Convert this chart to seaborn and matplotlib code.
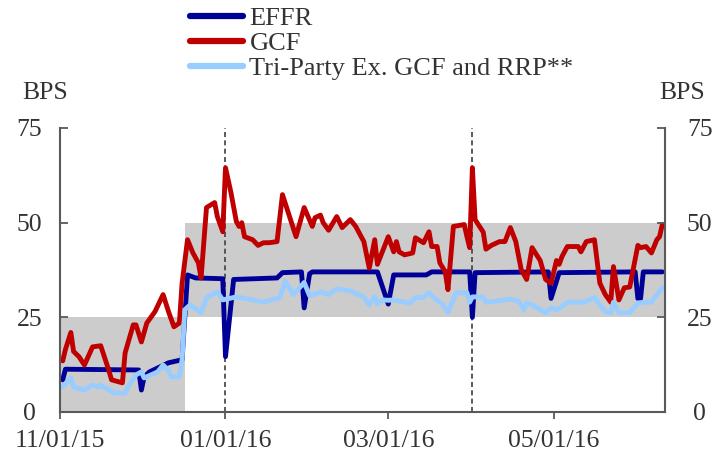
import pandas as pd
import seaborn as sns
import matplotlib.pyplot as plt

# Data (basis points)
effr_dates = ['2015-11-02', '2015-11-03', '2015-11-30', '2015-12-01', '2015-12-02', '2015-12-04',
              '2015-12-11', '2015-12-16', '2015-12-18', '2015-12-21', '2015-12-31', '2016-01-01',
              '2016-01-04', '2016-01-20', '2016-01-22', '2016-01-29', '2016-01-30', '2016-02-01',
              '2016-02-02', '2016-02-26', '2016-03-01', '2016-03-03', '2016-03-15', '2016-03-17',
              '2016-03-31', '2016-04-01', '2016-04-02', '2016-04-29', '2016-04-30', '2016-05-03',
              '2016-05-31', '2016-06-01', '2016-06-02', '2016-06-03', '2016-06-10']
effr_vals = [8.5, 11.3, 11.1, 5.8, 9.3, 10.6,
             13.0, 13.8, 36.2, 35.4, 35.2, 14.6,
             35.0, 35.4, 36.8, 37.0, 27.5, 36.5,
             37.0, 37.0, 28.5, 36.2, 36.2, 37.0,
             37.0, 25.0, 36.8, 37.0, 30.0, 36.8,
             37.0, 30.0, 30.0, 37.0, 37.0]

gcf_dates = ['2015-11-02', '2015-11-03', '2015-11-05', '2015-11-06', '2015-11-08', '2015-11-10',
             '2015-11-13', '2015-11-16', '2015-11-19', '2015-11-20', '2015-11-24', '2015-11-25',
             '2015-11-28', '2015-11-29',
             '2015-12-01', '2015-12-03', '2015-12-06', '2015-12-09', '2015-12-11', '2015-12-13',
             '2015-12-15', '2015-12-16', '2015-12-18', '2015-12-20', '2015-12-22', '2015-12-23',
             '2015-12-25', '2015-12-28', '2015-12-29', '2015-12-31',
             '2016-01-01', '2016-01-03', '2016-01-05', '2016-01-06', '2016-01-07', '2016-01-08',
             '2016-01-11', '2016-01-13', '2016-01-15', '2016-01-17', '2016-01-20', '2016-01-22',
             '2016-01-27', '2016-01-30',
             '2016-02-02', '2016-02-03', '2016-02-05', '2016-02-06', '2016-02-08', '2016-02-11',
             '2016-02-13', '2016-02-16', '2016-02-18', '2016-02-21', '2016-02-23', '2016-02-25',
             '2016-02-26',
             '2016-03-01', '2016-03-03', '2016-03-04', '2016-03-05', '2016-03-07', '2016-03-10',
             '2016-03-11', '2016-03-14', '2016-03-16', '2016-03-17', '2016-03-19', '2016-03-20',
             '2016-03-22', '2016-03-23', '2016-03-25', '2016-03-29', '2016-03-30', '2016-03-31',
             '2016-04-01', '2016-04-02', '2016-04-05', '2016-04-06', '2016-04-08', '2016-04-11',
             '2016-04-13', '2016-04-15', '2016-04-17', '2016-04-19', '2016-04-21', '2016-04-23',
             '2016-04-26', '2016-04-28', '2016-04-30',
             '2016-05-02', '2016-05-03', '2016-05-04', '2016-05-06', '2016-05-10', '2016-05-11',
             '2016-05-13', '2016-05-16', '2016-05-18', '2016-05-20', '2016-05-22', '2016-05-23',
             '2016-05-25', '2016-05-27', '2016-05-29',
             '2016-06-01', '2016-06-02', '2016-06-04', '2016-06-06', '2016-06-08', '2016-06-09',
             '2016-06-10']
gcf_vals = [13.5, 16.5, 21.0, 16.0, 14.6, 12.4, 17.2, 17.5, 11.0, 8.5, 7.7, 15.6, 23.0, 23.0,
            18.5, 23.5, 26.5, 31.0, 26.5, 22.5, 23.5, 34.0, 45.5, 42.0, 39.4, 35.4, 54.0, 55.3,
            51.6, 47.6,
            64.5, 58.0, 50.3, 49.0, 50.0, 46.3, 45.5, 44.0, 44.7, 44.7, 45.0, 57.4, 46.3, 54.0,
            49.0, 51.3, 52.0, 50.0, 48.0, 51.6, 48.7, 50.8, 49.0, 45.0, 38.0, 45.5, 39.0,
            46.3, 42.3, 45.0, 42.3, 41.5, 42.0, 46.0, 44.7, 47.6, 43.7, 43.7, 39.4, 37.0, 32.3,
            49.0, 49.5, 46.3, 43.4,
            64.5, 50.8, 47.5, 43.0, 44.0, 45.0, 45.0, 48.7, 45.0, 37.6, 35.0, 43.4, 40.0, 35.0,
            34.0,
            40.0, 39.0, 41.0, 43.7, 43.7, 42.3, 45.0, 45.5, 34.0, 31.0, 29.0, 38.4, 29.6, 32.8,
            33.0,
            44.0, 43.4, 43.7, 42.0, 45.5, 46.3, 49.5]

tri_dates = ['2015-11-02', '2015-11-03', '2015-11-05', '2015-11-06', '2015-11-10', '2015-11-13',
             '2015-11-15', '2015-11-16', '2015-11-19', '2015-11-21', '2015-11-25', '2015-11-26',
             '2015-11-29',
             '2015-12-01', '2015-12-02', '2015-12-03', '2015-12-07', '2015-12-09', '2015-12-11',
             '2015-12-12', '2015-12-15', '2015-12-16', '2015-12-17', '2015-12-19', '2015-12-23',
             '2015-12-25', '2015-12-29', '2015-12-31',
             '2016-01-05', '2016-01-11', '2016-01-15', '2016-01-21', '2016-01-23', '2016-01-26',
             '2016-01-30',
             '2016-02-01', '2016-02-05', '2016-02-08', '2016-02-11', '2016-02-16', '2016-02-21',
             '2016-02-23', '2016-02-25', '2016-02-26', '2016-02-28',
             '2016-03-01', '2016-03-03', '2016-03-05', '2016-03-09', '2016-03-11', '2016-03-14',
             '2016-03-16', '2016-03-18', '2016-03-21', '2016-03-23', '2016-03-26', '2016-03-30',
             '2016-03-31',
             '2016-04-01', '2016-04-05', '2016-04-06', '2016-04-10', '2016-04-15', '2016-04-18',
             '2016-04-20', '2016-04-21', '2016-04-23', '2016-04-28', '2016-04-30',
             '2016-05-02', '2016-05-04', '2016-05-06', '2016-05-12', '2016-05-16', '2016-05-18',
             '2016-05-20', '2016-05-22', '2016-05-23', '2016-05-25', '2016-05-29',
             '2016-06-01', '2016-06-04', '2016-06-06', '2016-06-08', '2016-06-10']
tri_vals = [6.6, 7.5, 9.0, 6.6, 5.8, 7.1, 6.6, 7.1, 5.8, 5.0, 5.0, 6.6, 9.8,
            10.6, 9.0, 9.3, 10.6, 12.4, 11.0, 9.3, 9.3, 13.8, 27.0, 28.3, 26.2, 30.2, 31.7, 29.6,
            30.4, 29.6, 29.0, 30.2, 34.5, 31.0, 34.2,
            30.7, 31.7, 31.0, 32.5, 32.0, 30.4, 28.3, 30.5, 28.5, 29.6,
            29.5, 29.6, 29.3, 28.8, 30.2, 30.3, 31.5, 30.0, 28.5, 26.3, 31.5, 31.5, 29.0,
            30.4, 30.4, 29.0, 29.3, 29.8, 29.3, 27.0, 28.8, 28.3, 26.2, 27.5,
            27.0, 27.8, 29.0, 29.0, 30.2, 28.3, 26.5, 26.2, 29.0, 26.2, 26.2,
            28.8, 29.0, 29.0, 31.0, 32.8]

series_names = ['EFFR', 'GCF', 'Tri-Party Ex. GCF and RRP**']
series_colors = ['#000099', '#C00000', '#99CCFF']

# Fed funds target range (shaded)
band_dates = ['2015-11-01', '2015-12-17', '2016-06-11']
band_low = [0, 25, 25]
band_high = [25, 50, 50]

quarter_ends = ['2016-01-01', '2016-04-01']
tick_dates = ['2015-11-01', '2016-01-01', '2016-03-01', '2016-05-01']
tick_labels = ['11/01/15', '01/01/16', '03/01/16', '05/01/16']
y_ticks = [0, 25, 50, 75]

df = pd.concat([
    pd.DataFrame({'date': pd.to_datetime(effr_dates), 'bps': effr_vals, 'series': series_names[0]}),
    pd.DataFrame({'date': pd.to_datetime(gcf_dates), 'bps': gcf_vals, 'series': series_names[1]}),
    pd.DataFrame({'date': pd.to_datetime(tri_dates), 'bps': tri_vals, 'series': series_names[2]}),
], ignore_index=True)

sns.set_style('ticks')
plt.rcParams['font.family'] = ['Liberation Serif', 'DejaVu Serif']
txt = '#333333'
axc = '#595959'

fig = plt.figure(figsize=(7.16, 4.53), dpi=100)
ax = fig.add_axes([60 / 716, 41 / 453, 605 / 716, 284 / 453])

ax.fill_between(pd.to_datetime(band_dates), band_low, band_high, step='post',
                color='#CCCCCC', lw=0, zorder=0.5)
for d in quarter_ends:
    ax.axvline(pd.Timestamp(d), color='#404040', ls=(0, (3, 2)), lw=1.2, zorder=1)

sns.lineplot(data=df, x='date', y='bps', hue='series', hue_order=series_names,
             palette=series_colors, estimator=None, linewidth=3.5, legend=False, ax=ax,
             solid_joinstyle='round', solid_capstyle='round')

ax.set_xlim(pd.Timestamp('2015-11-01'), pd.Timestamp('2016-06-11'))
ax.set_ylim(0, 75)
ax.set_xlabel('')
ax.set_ylabel('')
ax.set_xticks(pd.to_datetime(tick_dates))
ax.set_xticklabels(tick_labels)
ax.set_yticks(y_ticks)
for lab in ax.get_yticklabels():
    lab.set_horizontalalignment('center')
ax.tick_params(axis='x', direction='out', length=5, width=1.3, color=axc,
               labelsize=18.5, labelcolor=txt, pad=8)
ax.tick_params(axis='y', direction='in', length=6, width=1.3, color=axc,
               labelsize=18.5, labelcolor=txt, pad=22)
ax.spines['top'].set_visible(False)
ax.spines['right'].set_visible(False)
for s in ['left', 'bottom']:
    ax.spines[s].set_color(axc)
    ax.spines[s].set_linewidth(1.5)

ax2 = ax.twinx()
ax2.set_ylim(0, 75)
ax2.set_yticks(y_ticks)
for lab in ax2.get_yticklabels():
    lab.set_horizontalalignment('center')
ax2.tick_params(axis='y', direction='in', length=6, width=1.3, color=axc,
                labelsize=18.5, labelcolor=txt, pad=25)
for s in ['top', 'left', 'bottom']:
    ax2.spines[s].set_visible(False)
ax2.spines['right'].set_color(axc)
ax2.spines['right'].set_linewidth(1.5)

fig.text(45 / 716, 1 - 93 / 453, 'BPS', ha='center', va='center', fontsize=18.5, color=txt)
fig.text(682 / 716, 1 - 93 / 453, 'BPS', ha='center', va='center', fontsize=18.5, color=txt)

handles = [plt.Line2D([], [], color=c, lw=4.5, solid_capstyle='round') for c in series_colors]
fig.legend(handles, series_names, loc='upper left', bbox_to_anchor=(190 / 716, 1 - 7 / 453),
           frameon=False, fontsize=19, handlelength=2.0, handletextpad=0.25,
           labelspacing=0.05, borderpad=0, borderaxespad=0, labelcolor=txt)

fig.savefig('out.png', dpi=100)
